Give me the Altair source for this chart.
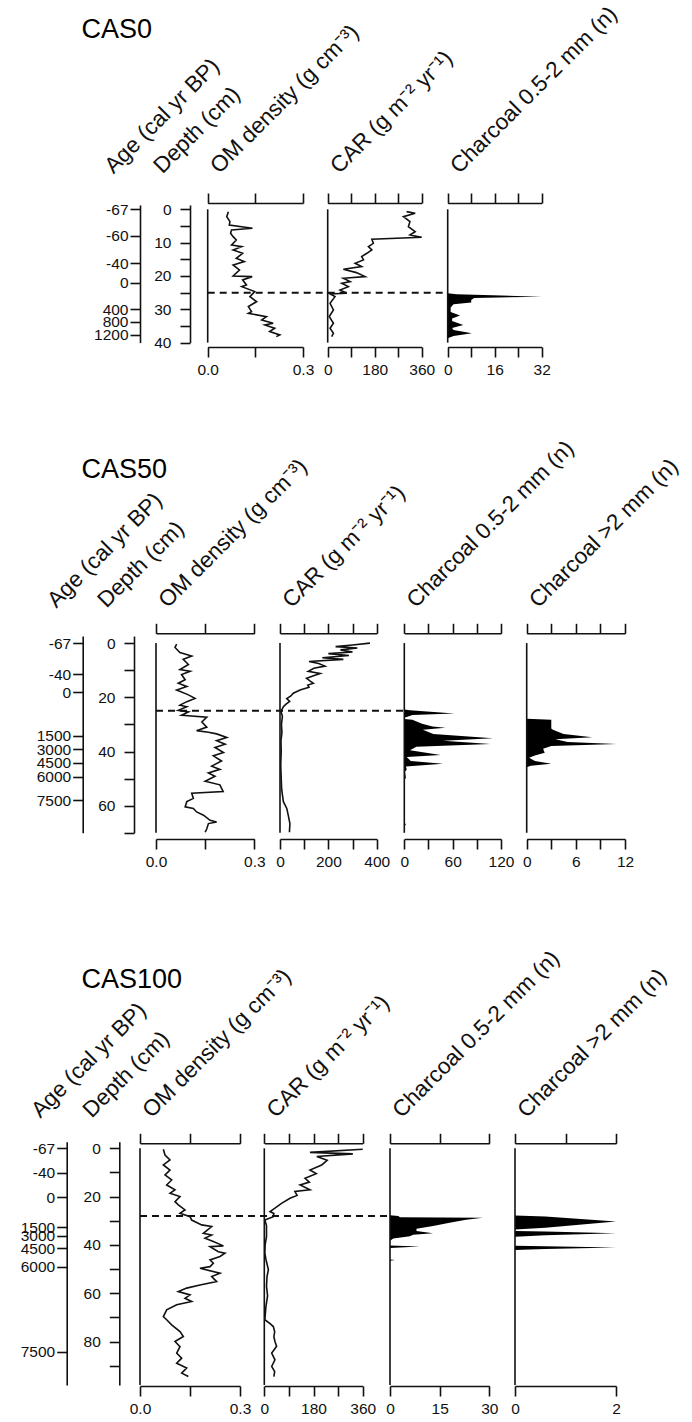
import json
import altair as alt
import pandas as pd

FONT = "Liberation Sans"
W, H = 692, 1422

# ---------------- CAS0 data ----------------
CAS0_AGE_DEPTH = [0, 8.0, 16.2, 22.0, 30.0, 33.7, 37.7]
CAS0_AGE_LABEL = ["-67", "-60", "-40", "0", "400", "800", "1200"]
CAS0_OM_DEPTH = [0.7, 2.2, 3.7, 4.7, 5.7, 6.2, 7.2, 8.2, 9.2, 10.7, 11.2, 12.2, 13.2, 14.7, 15.7, 16.7,
                 18.2, 20.0, 20.2, 21.2, 22.7, 23.2, 24.7, 26.2, 27.7, 29.2, 30.7, 31.2, 32.2, 33.2,
                 34.2, 34.7, 35.7, 36.7, 37.7, 38.2]
CAS0_OM = [0.065, 0.060, 0.070, 0.068, 0.141, 0.075, 0.072, 0.080, 0.090, 0.075, 0.107, 0.080, 0.110,
           0.090, 0.115, 0.080, 0.100, 0.080, 0.140, 0.110, 0.122, 0.107, 0.148, 0.133, 0.154, 0.128,
           0.138, 0.128, 0.185, 0.170, 0.206, 0.180, 0.211, 0.195, 0.227, 0.216]
CAS0_CAR_DEPTH = [0.7, 1.2, 2.2, 3.7, 5.2, 6.7, 7.7, 8.4, 9.0, 10.2, 11.2, 12.2, 13.2, 14.2, 15.2, 16.2,
                  17.2, 18.0, 19.0, 20.2, 20.7, 21.7, 22.2, 23.2, 24.2, 25.2, 25.4, 26.2, 28.2, 30.2,
                  32.2, 34.2, 35.7, 37.2, 38.2]
CAS0_CAR = [302, 335, 290, 315, 309, 335, 315, 360, 169, 175, 156, 169, 150, 130, 137, 105, 130, 60,
            110, 143, 60, 86, 54, 79, 47, 73, 9, 28, 9, 22, 6, 22, 9, 22, 15]
CAS0_CH1_DEPTH = [0, 25.2, 25.5, 26.2, 26.6, 27.2, 28.0, 28.5, 29.5, 30.8, 31.9, 32.8, 33.5, 34.7,
                  35.6, 36.2, 37.2, 38.0, 38.7, 40]
CAS0_CH1 = [0, 0, 3, 32, 9, 8, 8, 2, 1, 1, 4.2, 1.5, 1.5, 5.3, 1.5, 2, 8.2, 2, 0, 0]

# ---------------- CAS50 data ----------------
CAS50_AGE_DEPTH = [0, 11.5, 18.2, 34.2, 39.1, 44.1, 49.3, 57.9]
CAS50_AGE_LABEL = ["-67", "-40", "0", "1500", "3000", "4500", "6000", "7500"]
CAS50_OM_DEPTH = [0.4, 1.6, 3.5, 4.8, 6, 7.9, 9.8, 10.4, 11.6, 13.5, 14.8, 16, 17.3, 19.1, 20.4, 21.6,
                  22.9, 23.5, 24.8, 25.4, 26.6, 27.3, 29.1, 31, 32.3, 32.9, 33.5, 34.8, 36, 37.3, 38.5,
                  40.4, 41.6, 43.5, 45.4, 46.6, 47.9, 49.1, 51, 52.3, 54.8, 55.4, 57.3, 58.5, 60.4, 61,
                  62.3, 63.5, 65.4, 66, 66.6, 68.5, 69.8]
CAS50_OM = [0.063, 0.058, 0.073, 0.109, 0.083, 0.099, 0.073, 0.104, 0.078, 0.089, 0.068, 0.094, 0.063,
            0.099, 0.119, 0.094, 0.073, 0.094, 0.068, 0.099, 0.078, 0.155, 0.14, 0.155, 0.124, 0.16,
            0.185, 0.216, 0.185, 0.211, 0.18, 0.206, 0.175, 0.2, 0.17, 0.195, 0.16, 0.18, 0.15, 0.195,
            0.205, 0.109, 0.114, 0.094, 0.089, 0.114, 0.124, 0.145, 0.165, 0.185, 0.16, 0.155, 0.15]
CAS50_CAR_DEPTH = [0, 0.7, 1.3, 1.8, 2.5, 3.3, 3.9, 4.6, 5.4, 6.0, 6.8, 7.5, 8.5, 9.3, 10.4, 11.2, 12.3,
                   13.0, 14.0, 14.8, 15.5, 16.3, 17.3, 18.5, 19.5, 20.5, 21.5, 22.5, 23.5, 24.5, 25.5,
                   27, 30, 33, 36, 40, 45, 50, 54, 56, 58.5, 61, 63.5, 66.6, 69.8]
CAS50_CAR = [372, 300, 230, 320, 250, 300, 200, 285, 175, 262, 120, 160, 186, 140, 117, 166, 130, 110,
             125, 138, 115, 120, 83, 55, 45, 28, 40, 25, 14, 8, 5, 10, 6, 8, 4, 5, 3, 5, 7, 10, 14, 28,
             34, 41, 39]
CAS50_CH1_DEPTH = [0, 24.5, 24.75, 26.0, 26.5, 27.25, 27.5, 28.0, 28.25, 29.75, 30.75, 31.25, 32.0,
                   33.5, 35.1, 36.0, 37.25, 38.25, 39.5, 41.25, 42.0, 43.5, 44.5, 45.5, 46.6, 47.5,
                   49.75, 50.4, 66.0, 67.0, 67.5, 70]
CAS50_CH1 = [0, 0, 7, 62, 10, 3, 0, 0, 10, 22, 35, 51, 23, 36, 110, 48, 107, 15, 7, 45, 3, 8, 48, 2, 3,
             1, 2, 0, 0, 2, 0, 0]
CAS50_CH2_DEPTH = [0, 27.9, 28.25, 31.5, 32.0, 33.5, 34.75, 35.5, 36.5, 37.25, 38.0, 39.0, 40.5, 41.5,
                   42.3, 43.5, 44.5, 45.3, 45.8, 70]
CAS50_CH2 = [0, 0, 3, 3, 3.2, 4.5, 8, 3.5, 5, 11, 3, 2, 2.2, 1, 0.3, 1, 3, 0.5, 0, 0]

# ---------------- CAS100 data ----------------
CAS100_AGE_DEPTH = [0, 10.1, 20.3, 32.7, 36.3, 41.4, 49.0, 84.2]
CAS100_AGE_LABEL = ["-67", "-40", "0", "1500", "3000", "4500", "6000", "7500"]
CAS100_OM_DEPTH = [0.4, 2.8, 4.8, 6.9, 9, 11, 13.1, 15.2, 17.2, 18.6, 20, 22.1, 23.4, 25.5, 26.9, 28.3,
                   29.7, 31.7, 32.4, 35.2, 35.9, 37.2, 38.6, 40.4, 40.7, 42.8, 43.4, 44.8, 46.2, 47.6,
                   49, 49.7, 51.7, 53.1, 55.2, 56.6, 57.9, 59.3, 60.7, 62.1, 63.4, 64.8, 66.9, 69.7, 71,
                   73.1, 75.9, 77.9, 80, 82.1, 84.8, 86.9, 89, 91, 93.1, 94.5]
CAS100_OM = [0.07, 0.075, 0.09, 0.07, 0.09, 0.075, 0.095, 0.08, 0.105, 0.09, 0.12, 0.105, 0.115, 0.135,
             0.12, 0.15, 0.155, 0.185, 0.215, 0.19, 0.215, 0.195, 0.22, 0.25, 0.21, 0.235, 0.255, 0.24,
             0.21, 0.22, 0.21, 0.18, 0.24, 0.215, 0.23, 0.18, 0.14, 0.115, 0.15, 0.135, 0.155, 0.11,
             0.08, 0.07, 0.08, 0.095, 0.12, 0.13, 0.105, 0.12, 0.11, 0.125, 0.11, 0.14, 0.125, 0.145]
CAS100_CAR_DEPTH = [0.4, 1.7, 2.3, 3.4, 5.0, 6.9, 9.0, 10.5, 12.4, 14.0, 15.2, 17.2, 17.9, 19.5, 20.7,
                    22.8, 24.8, 26.2, 27.0, 28.3, 29.7, 32, 36.6, 40, 43.4, 46, 50.3, 53, 57.2, 61,
                    65.5, 71, 72.5, 73.8, 76, 78, 80, 82, 84.8, 87.6, 90.3, 92.5, 94.5]
CAS100_CAR = [360, 167, 324, 192, 230, 210, 167, 190, 149, 165, 131, 167, 112, 120, 94, 63, 39, 21, 35,
              33, 2, 8, 8, 3, 2, 6, 15, 10, 8, 12, 6, 2, 20, 33, 38, 35, 39, 45, 27, 39, 27, 38, 35]
CAS100_CH1_DEPTH = [0, 27.7, 28.0, 28.5, 28.8, 29.6, 30.8, 32.2, 33.3, 34.2, 35.2, 35.8, 36.4, 37.3,
                    38.3, 40.2, 40.7, 41.3, 46.0, 46.3, 46.6, 98]
CAS100_CH1 = [0, 0, 2.5, 3, 28, 23, 18, 13, 8, 8, 13, 7, 6, 1, 0, 0, 9, 0, 0, 1.5, 0, 0]
CAS100_CH2_DEPTH = [0, 27.8, 28.2, 30.3, 32.9, 33.6, 34.2, 34.5, 35.2, 36.0, 36.6, 40.3, 40.6, 41.1,
                    41.7, 42.1, 98]
CAS100_CH2 = [0, 0, 0.6, 2, 0.6, 0, 0, 0.6, 2, 0.6, 0, 0, 0.6, 2, 0.6, 0, 0]

# ---------------- headers / ticks ----------------
H_AGE = "Age (cal yr BP)"
H_DEPTH = "Depth (cm)"
H_OM = "OM density (g cm\u207b\u00b3)"
H_CAR = "CAR (g m\u207b\u00b2 yr\u207b\u00b9)"
H_CH1 = "Charcoal 0.5-2 mm (n)"
H_CH2 = "Charcoal >2 mm (n)"

# ---------------- layout (pixels) ----------------
ROWS = [
    dict(name="CAS0", y0=209.3, ppc=3.333, dmax=40, top_y=203, bottom_y=347, age_x=140, depth_x=190,
         age_lo=-1.3, hdy=-29, title_base=37, dash=25, dtick=5, dlab=10,
         age_d=CAS0_AGE_DEPTH, age_l=CAS0_AGE_LABEL,
         panels=[
             dict(kind="line", d=CAS0_OM_DEPTH, v=CAS0_OM, dom=[0, 0.3], rng=[207.7, 303],
                  ticks=[0, 0.15, 0.3], labs=[0, 0.3], fmt=".1f", head=H_OM),
             dict(kind="line", d=CAS0_CAR_DEPTH, v=CAS0_CAR, dom=[0, 360], rng=[327.7, 421.7],
                  ticks=[0, 90, 180, 270, 360], labs=[0, 180, 360], fmt="d", head=H_CAR),
             dict(kind="area", d=CAS0_CH1_DEPTH, v=CAS0_CH1, dom=[0, 32], rng=[447.7, 541.7],
                  ticks=[0, 8, 16, 24, 32], labs=[0, 16, 32], fmt="d", head=H_CH1),
         ]),
    dict(name="CAS50", y0=643.1, ppc=2.71, dmax=70, top_y=633.3, bottom_y=839, age_x=82.7, depth_x=134,
         age_lo=-2.6, hdy=-25, title_base=477, dash=25, dtick=10, dlab=20,
         age_d=CAS50_AGE_DEPTH, age_l=CAS50_AGE_LABEL,
         panels=[
             dict(kind="line", d=CAS50_OM_DEPTH, v=CAS50_OM, dom=[0, 0.3], rng=[156, 254.3],
                  ticks=[0, 0.15, 0.3], labs=[0, 0.3], fmt=".1f", head=H_OM),
             dict(kind="line", d=CAS50_CAR_DEPTH, v=CAS50_CAR, dom=[0, 400], rng=[280, 376.7],
                  ticks=[0, 100, 200, 300, 400], labs=[0, 200, 400], fmt="d", head=H_CAR),
             dict(kind="area", d=CAS50_CH1_DEPTH, v=CAS50_CH1, dom=[0, 120], rng=[404.3, 501],
                  ticks=[0, 30, 60, 90, 120], labs=[0, 60, 120], fmt="d", head=H_CH1),
             dict(kind="area", d=CAS50_CH2_DEPTH, v=CAS50_CH2, dom=[0, 12], rng=[526.7, 625],
                  ticks=[0, 3, 6, 9, 12], labs=[0, 6, 12], fmt="d", head=H_CH2),
         ]),
    dict(name="CAS100", y0=1148.3, ppc=2.415, dmax=98, top_y=1143.3, bottom_y=1386, age_x=66.7,
         depth_x=119.3, age_lo=-2.7, hdy=-25, title_base=987, dash=28, dtick=10, dlab=20,
         age_d=CAS100_AGE_DEPTH, age_l=CAS100_AGE_LABEL,
         panels=[
             dict(kind="line", d=CAS100_OM_DEPTH, v=CAS100_OM, dom=[0, 0.3], rng=[140, 240],
                  ticks=[0, 0.15, 0.3], labs=[0, 0.3], fmt=".1f", head=H_OM),
             dict(kind="line", d=CAS100_CAR_DEPTH, v=CAS100_CAR, dom=[0, 360], rng=[264.3, 362.7],
                  ticks=[0, 90, 180, 270, 360], labs=[0, 180, 360], fmt="d", head=H_CAR),
             dict(kind="area", d=CAS100_CH1_DEPTH, v=CAS100_CH1, dom=[0, 30], rng=[390, 489.3],
                  ticks=[0, 15, 30], labs=[0, 15, 30], fmt="d", head=H_CH1),
             dict(kind="area", d=CAS100_CH2_DEPTH, v=CAS100_CH2, dom=[0, 2], rng=[515, 616],
                  ticks=[0, 1, 2], labs=[0, 1, 2], fmt="d", head=H_CH2),
         ]),
]

INK = "#111111"
HEAD_SIZE = 22.5
AX = dict(grid=False, domainColor=INK, domainWidth=1.6, tickColor=INK, tickWidth=1.6,
          labelFont=FONT, labelFontSize=15.5, labelColor=INK, labelOverlap=False, labelFlush=False,
          titleFont=FONT, titleFontWeight="normal", titleColor=INK)


def yscale(row, lo, hi):
    return alt.Scale(domain=[lo, hi], nice=False, zero=False,
                     range=[row["y0"] + lo * row["ppc"], row["y0"] + hi * row["ppc"]])


def xscale(p):
    return alt.Scale(domain=p["dom"], range=p["rng"], nice=False, zero=False)


layers = []
for row in ROWS:
    dmax = row["dmax"]
    ys = yscale(row, 0, dmax)
    yax = yscale(row, row["age_lo"], dmax)
    head_y = row["top_y"] + row["hdy"]

    # age axis (age-depth model labels placed at their depths)
    age_df = pd.DataFrame({"d": row["age_d"], "age": row["age_l"]})
    age_axis = alt.Axis(orient="left", offset=-row["age_x"], values=row["age_d"], tickSize=10,
                        labelPadding=2,
                        labelExpr=f"{json.dumps(row['age_l'])}[indexof({json.dumps(row['age_d'])}, datum.value)]",
                        title=H_AGE, titleAngle=315, titleAlign="left", titleBaseline="alphabetic",
                        titleX=-27, titleY=head_y, titleFontSize=HEAD_SIZE, **AX)
    layers.append(alt.Chart(age_df).mark_point(opacity=0).encode(
        y=alt.Y("d:Q", scale=yax, axis=age_axis)))

    # depth axis
    dticks = list(range(0, int(dmax) + 1, row["dtick"]))
    dticks = [t for t in dticks if t <= dmax]
    dlabs = [t for t in dticks if t % row["dlab"] == 0]
    depth_df = pd.DataFrame({"d": dticks})
    depth_axis = alt.Axis(orient="left", offset=-row["depth_x"], values=dticks, tickSize=10,
                          labelPadding=9, format="d",
                          labelExpr=f"indexof({json.dumps(dlabs)}, datum.value) >= 0 ? datum.label : ''",
                          title=H_DEPTH, titleAngle=315, titleAlign="left", titleBaseline="alphabetic",
                          titleX=-28, titleY=head_y, titleFontSize=HEAD_SIZE, **AX)
    layers.append(alt.Chart(depth_df).mark_point(opacity=0).encode(
        y=alt.Y("d:Q", scale=yax, axis=depth_axis)))

    # panels
    for p in row["panels"]:
        xs = xscale(p)
        df = pd.DataFrame({"d": p["d"], "v": p["v"]})
        bottom = alt.Axis(orient="bottom", offset=row["bottom_y"] - H, values=p["ticks"], tickSize=10,
                          labelPadding=5, format=p["fmt"], title=None,
                          labelExpr=f"indexof({json.dumps(p['labs'])}, datum.value) >= 0 ? datum.label : ''",
                          **AX)
        if p["kind"] == "line":
            mark = alt.Chart(df).mark_line(color=INK, strokeWidth=1.6).encode(
                x=alt.X("v:Q", scale=xs, axis=bottom),
                y=alt.Y("d:Q", scale=ys, axis=None),
                order=alt.Order("d:Q"))
        else:
            mark = alt.Chart(df).mark_area(color="black", orient="horizontal", opacity=1).encode(
                x=alt.X("v:Q", scale=xs, axis=bottom, stack=None),
                y=alt.Y("d:Q", scale=ys, axis=None))
        layers.append(mark)

        top = alt.Axis(orient="top", offset=-row["top_y"], values=p["ticks"], tickSize=10, labels=False,
                       title=p["head"], titleAngle=315, titleAlign="left", titleBaseline="alphabetic",
                       titleX=p["rng"][0] + 11, titleY=row["hdy"], titleFontSize=HEAD_SIZE, **AX)
        frame = alt.Chart(pd.DataFrame({"d": [0]})).mark_rule(color=INK, strokeWidth=1.6).encode(
            x=alt.X(datum=0, type="quantitative", scale=xs, axis=top),
            y=alt.Y(datum=0, type="quantitative", scale=ys, axis=None),
            y2=alt.Y2(datum=dmax))
        layers.append(frame)

    # dashed horizon across OM, CAR to the first charcoal panel; carries row title
    p0, pc = row["panels"][0], row["panels"][2]
    title_axis = alt.Axis(orient="top", offset=0, domain=False, ticks=False, labels=False, grid=False,
                          title=row["name"], titleX=81, titleY=row["title_base"], titleAngle=0,
                          titleAlign="left", titleBaseline="alphabetic", titleFontSize=27,
                          titleFont=FONT, titleFontWeight="normal", titleColor="black")
    dash = alt.Chart(pd.DataFrame({"d": [row["dash"]]})).mark_rule(
        color=INK, strokeWidth=2, strokeDash=[7, 5]).encode(
        x=alt.X(datum=0, type="quantitative",
                scale=alt.Scale(domain=[0, 1], range=[p0["rng"][0], pc["rng"][0]], nice=False, zero=False),
                axis=title_axis),
        x2=alt.X2(datum=1),
        y=alt.Y("d:Q", scale=ys, axis=None))
    layers.append(dash)

chart = alt.layer(*layers).resolve_scale(x="independent", y="independent").resolve_axis(
    x="independent", y="independent").properties(
    width=W, height=H, autosize=alt.AutoSizeParams(type="none"), padding=0,
    background="white").configure_view(stroke="transparent")

chart.save("out.html", embed_options={"renderer": "svg", "actions": False})
